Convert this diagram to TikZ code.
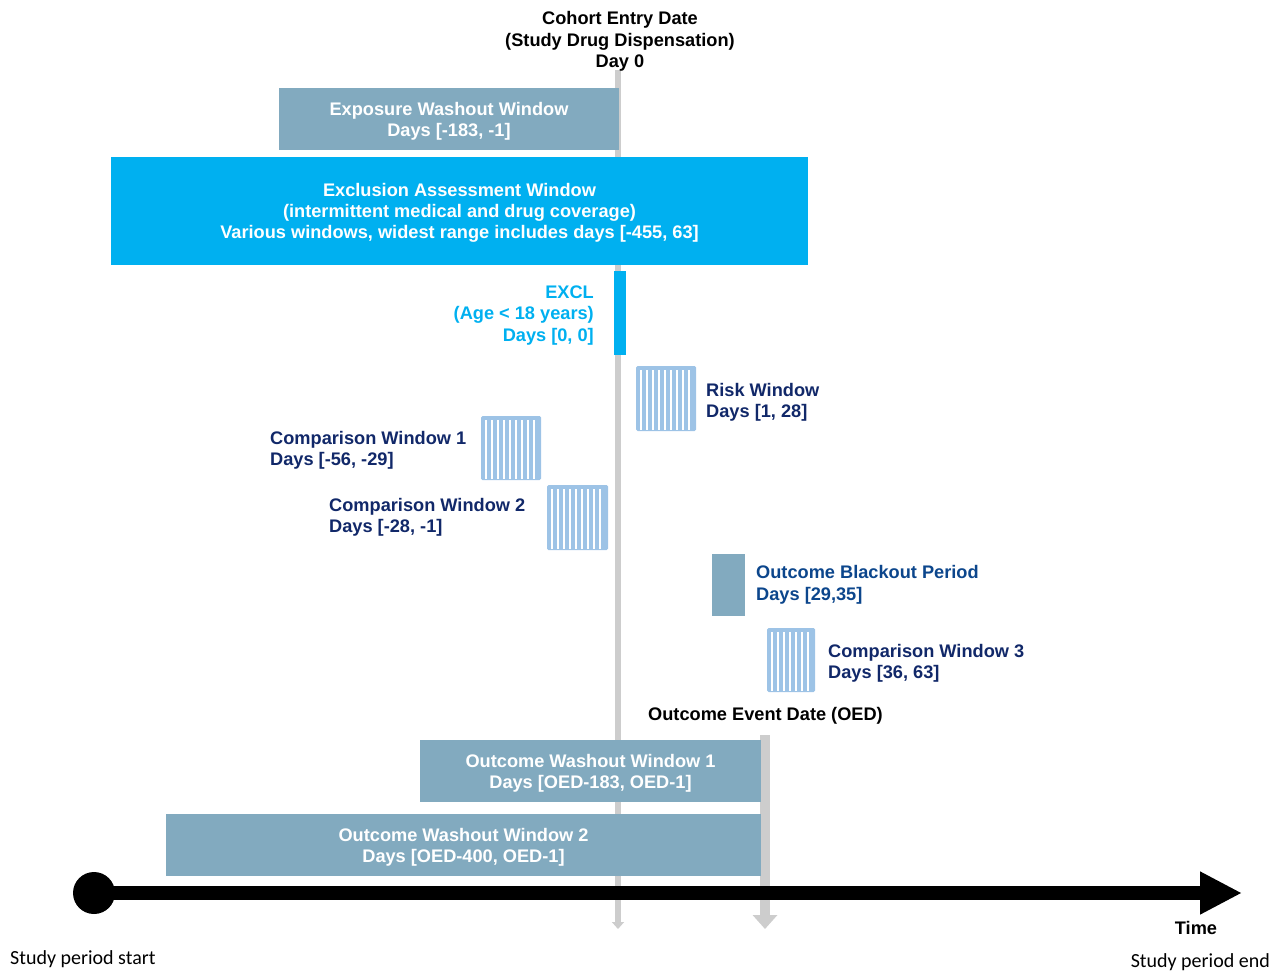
\documentclass[tikz,border=0pt]{standalone}
\usepackage{fontspec}
\setmainfont{Liberation Sans}
\newfontfamily\calib{Carlito}
\usetikzlibrary{arrows.meta}
\definecolor{steel}{RGB}{130,170,191}
\definecolor{cyanx}{RGB}{0,176,240}
\definecolor{hatchblue}{RGB}{157,195,230}
\definecolor{navy}{RGB}{17,40,105}
\definecolor{blackoutblue}{RGB}{12,70,140}
\definecolor{daygray}{RGB}{205,205,205}
\newcommand\hatchstripes[4]{%
  \pgfmathsetmacro\hsa{#1+5}\pgfmathsetmacro\hsb{#1+11}\pgfmathsetmacro\hsc{#3-3}%
  \foreach \xx in {\hsa,\hsb,...,\hsc}{\draw[white,line width=2pt] (\xx,#2+4) -- (\xx,#4-1);}}
\tikzset{
  lbl/.style={font=\fontsize{18.2}{21.5}\selectfont\bfseries, inner sep=0pt},
  solidbox/.style={fill=steel, inner sep=0pt},
  cyanbox/.style={fill=cyanx, inner sep=0pt},
  boxtxt/.style={lbl, text=white, align=center},
  hatchbox/.style={fill=hatchblue, inner sep=0pt, rounded corners=1.5pt},
  dayline/.style={draw=daygray},
  bottomlbl/.style={font=\calib\fontsize{20}{24}\selectfont, inner sep=0pt},
}
\begin{document}
\begin{tikzpicture}[x=1pt,y=-1pt]
\useasboundingbox (0,0) rectangle (1284,972);
% vertical reference lines
\coordinate (d0top) at (618,70);
\coordinate (d0bot) at (618,929);
\draw[dayline, line width=6pt, -{Triangle[width=12pt,length=7pt]}] (d0top) -- (d0bot);
\coordinate (oedtop) at (765,735);
\coordinate (oedbot) at (765,929);
\draw[dayline, line width=10pt, -{Triangle[width=24pt,length=14pt]}] (oedtop) -- (oedbot);

% header
\node[lbl, align=center] (hdr) at (620,41.5) {Cohort Entry Date\\(Study Drug Dispensation)\\Day 0};

% exposure washout
\node[solidbox, minimum width=340pt, minimum height=62pt] (eww) at (449,119) {};
\node[boxtxt] (ewwtxt) at ([yshift=-2.5pt]eww.center) {Exposure Washout Window\\Days [-183, -1]};
% exclusion assessment
\node[cyanbox, minimum width=697pt, minimum height=108pt] (eaw) at (459.5,211) {};
\node[boxtxt, font=\fontsize{18.2}{21}\selectfont\bfseries] (eawtxt) at ([yshift=-2pt]eaw.center)
  {Exclusion Assessment Window\\(intermittent medical and drug coverage)\\Various windows, widest range includes days [-455, 63]};
% EXCL bar
\node[fill=cyanx, inner sep=0pt, minimum width=12pt, minimum height=84pt] (excl) at (620,313) {};
\node[lbl, text=cyanx, align=right, anchor=east] (excltxt) at (594,315.5)
  {EXCL\\(Age < 18 years)\\Days [0, 0]};

% risk window
\node[hatchbox, minimum width=60pt, minimum height=65pt] (risk) at (666,398.5) {};
\hatchstripes{636}{366}{696}{431}
\node[lbl, text=navy, align=left, anchor=west] (risktxt) at (706,402.5) {Risk Window\\Days [1, 28]};

% comparison window 1
\node[hatchbox, minimum width=60pt, minimum height=64pt] (cw1) at (511,448) {};
\hatchstripes{481}{416}{541}{480}
\node[lbl, text=navy, align=left, anchor=west] (cw1txt) at (270,450.5) {Comparison Window 1\\Days [-56, -29]};

% comparison window 2
\node[hatchbox, minimum width=61pt, minimum height=65pt] (cw2) at (577.5,517.5) {};
\hatchstripes{547}{485}{608}{550}
\node[lbl, text=navy, align=left, anchor=west] (cw2txt) at (329,517.5) {Comparison Window 2\\Days [-28, -1]};

% outcome blackout
\node[fill=steel, inner sep=0pt, minimum width=33pt, minimum height=62pt] (obp) at (728.5,585) {};
\node[lbl, text=blackoutblue, align=left, anchor=west] (obptxt) at (756,585) {Outcome Blackout Period\\Days [29,35]};

% comparison window 3
\node[hatchbox, minimum width=48pt, minimum height=64pt] (cw3) at (791,660) {};
\hatchstripes{767}{628}{815}{692}
\node[lbl, text=navy, align=left, anchor=west] (cw3txt) at (828,663.5) {Comparison Window 3\\Days [36, 63]};

% OED
\node[lbl, anchor=west] (oed) at (648,716) {Outcome Event Date (OED)};

% outcome washout windows
\node[solidbox, minimum width=341pt, minimum height=62pt] (oww1) at (590.5,771) {};
\node[boxtxt] (oww1txt) at ([yshift=-2.5pt]oww1.center) {Outcome Washout Window 1\\Days [OED-183, OED-1]};
\node[solidbox, minimum width=595pt, minimum height=62pt] (oww2) at (463.5,845) {};
\node[boxtxt] (oww2txt) at ([yshift=-2.5pt]oww2.center) {Outcome Washout Window 2\\Days [OED-400, OED-1]};

% timeline
\node[circle, fill=black, inner sep=0pt, minimum size=42pt] (tstart) at (94,893) {};
\coordinate (tend) at (1242,893);
\draw[line width=14pt, -{Triangle[width=40pt,length=42pt]}] (tstart.center) -- (tend);
\node[lbl] (time) at (1196,928) {Time};

% study period labels
\node[bottomlbl, anchor=west] (sps) at (10,959) {Study period start};
\node[bottomlbl, anchor=east] (spe) at (1270,962) {Study period end};
\end{tikzpicture}
\end{document}
